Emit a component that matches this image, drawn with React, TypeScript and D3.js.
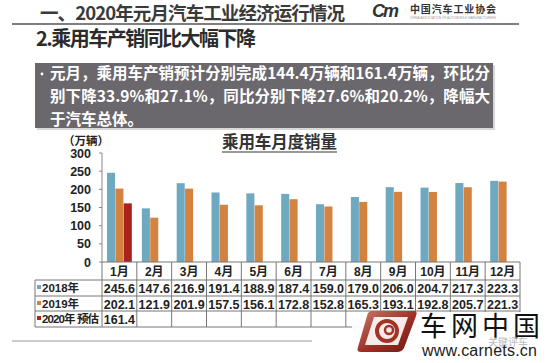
import React from "react";
import { scaleBand, scaleLinear, range } from "d3";

const months = ["1月", "2月", "3月", "4月", "5月", "6月", "7月", "8月", "9月", "10月", "11月", "12月"];
const sales2018 = [245.6, 147.6, 216.9, 191.4, 188.9, 187.4, 159.0, 179.0, 206.0, 204.7, 217.3, 223.3];
const sales2019 = [202.1, 121.9, 201.9, 157.5, 156.1, 172.8, 152.8, 165.3, 193.1, 192.8, 205.7, 221.3];
const sales2020 = [161.4];
const seriesNames = ["2018年", "2019年", "2020年 预估"];
const seriesColors = ["#6fa8c1", "#d3823f", "#a9221b"];
const yTicks = [0, 50, 100, 150, 200, 250, 300];

const bodyLines = [
  "元月，乘用车产销预计分别完成144.4万辆和161.4万辆，环比分",
  "别下降33.9%和27.1%，同比分别下降27.6%和20.2%，降幅大",
  "于汽车总体。",
];

const SANS = "'Liberation Sans', 'Noto Sans CJK SC', sans-serif";
const CJK = "'Noto Sans CJK SC', sans-serif";

const App = () => {
  const W = 550;
  const H = 363;
  const series = [sales2018, sales2019, sales2020];

  // plot area
  const x = scaleBand<string>().domain(months).range([102, 520]);
  const inner = scaleBand<string>()
    .domain(seriesNames)
    .range([0, x.step()])
    .paddingInner(0.04)
    .paddingOuter(0.6);
  const y = scaleLinear().domain([0, 300]).range([262, 153]);

  // table rows
  const rowTops = [262, 280, 296, 311, 327];
  const labelLeft = 35;

  return (
    <svg width={W} height={H} style={{ position: "absolute", left: 0, top: 0, background: "#fff" }}>
      {/* page header */}
      <text x={40} y={20} fontFamily={CJK} fontWeight={700} fontSize={18.5} fill="#3a3a3a" textLength={305}>
        一、2020年元月汽车工业经济运行情况
      </text>
      <line x1={12} x2={519} y1={24} y2={24} stroke="#555" strokeWidth={1.5} />
      <text x={372} y={17} fontFamily={SANS} fontStyle="italic" fontWeight={700} fontSize={18} fill="#333" letterSpacing={-2}>
        Cm
      </text>
      <text x={410} y={13} fontFamily={CJK} fontWeight={700} fontSize={10} fill="#333" textLength={86}>
        中国汽车工业协会
      </text>
      <text x={410} y={19} fontFamily={SANS} fontSize={3} fill="#999" textLength={86}>
        CHINA ASSOCIATION OF AUTOMOBILE MANUFACTURERS
      </text>

      <text x={36} y={46} fontFamily={CJK} fontWeight={700} fontSize={20} fill="#2b2b2b" textLength={220}>
        2.乘用车产销同比大幅下降
      </text>

      {/* grey text box */}
      <rect x={37} y={65} width={458} height={65} fill="#d8d8d8" />
      <rect x={35} y={63} width={458} height={65} fill="#6b686d" />
      <circle cx={42} cy={74} r={1.4} fill="#fff" />
      {bodyLines.map((t, i) => (
        <text
          key={i}
          x={50}
          y={79 + i * 23}
          fontFamily={CJK}
          fontWeight={700}
          fontSize={15.5}
          fill="#fff"
          textLength={i < 2 ? 440 : undefined}
        >
          {t}
        </text>
      ))}

      {/* chart title */}
      <text x={222} y={148} fontFamily={CJK} fontWeight={700} fontSize={16.5} fill="#333" textLength={115}>
        乘用车月度销量
      </text>
      <line x1={222} x2={337} y1={152} y2={152} stroke="#333" strokeWidth={1} />
      <text x={63} y={145} fontFamily={CJK} fontWeight={700} fontSize={11.5} fill="#222">
        （万辆）
      </text>

      {/* y axis */}
      <line x1={102} x2={102} y1={y(300)} y2={y(0)} stroke="#888" />
      {yTicks.map((t) => (
        <g key={t}>
          <line x1={99} x2={102} y1={y(t)} y2={y(t)} stroke="#888" />
          <text x={91} y={y(t) + 4.5} textAnchor="end" fontFamily={SANS} fontWeight={700} fontSize={12.5} fill="#222">
            {t}
          </text>
        </g>
      ))}

      {/* bars */}
      {series.map((vals, si) =>
        vals.map((v, mi) => (
          <rect
            key={`${si}-${mi}`}
            x={(x(months[mi]) as number) + (inner(seriesNames[si]) as number)}
            y={y(v)}
            width={inner.bandwidth()}
            height={y(0) - y(v)}
            fill={seriesColors[si]}
          />
        ))
      )}

      {/* data table */}
      {rowTops.map((ry, i) => (
        <line
          key={ry}
          x1={i === 0 ? 102 : labelLeft}
          x2={520}
          y1={ry}
          y2={ry}
          stroke="#777"
          strokeWidth={1}
        />
      ))}
      <line x1={labelLeft} x2={labelLeft} y1={280} y2={327} stroke="#777" />
      {range(months.length + 1).map((i) => {
        const xx = i === months.length ? 520 : (x(months[i]) as number);
        return <line key={i} x1={xx} x2={xx} y1={262} y2={327} stroke="#777" />;
      })}
      {months.map((m) => (
        <text
          key={m}
          x={(x(m) as number) + x.bandwidth() / 2}
          y={276}
          textAnchor="middle"
          fontFamily={SANS}
          fontWeight={700}
          fontSize={12}
          fill="#222"
        >
          {m}
        </text>
      ))}
      {series.map((vals, si) => (
        <g key={si}>
          <rect x={37} y={rowTops[si + 1] + 5} width={4} height={4} fill={seriesColors[si]} />
          <text
            x={42}
            y={rowTops[si + 1] + 12}
            fontFamily={SANS}
            fontWeight={700}
            fontSize={11.5}
            fill="#222"
            textLength={si === 2 ? 57 : undefined}
          >
            {seriesNames[si]}
          </text>
          {vals.map((v, mi) => (
            <text
              key={mi}
              x={(x(months[mi]) as number) + x.bandwidth() / 2}
              y={rowTops[si + 1] + 12.5}
              textAnchor="middle"
              fontFamily={SANS}
              fontWeight={700}
              fontSize={12.5}
              fill="#222"
            >
              {v.toFixed(1)}
            </text>
          ))}
        </g>
      ))}

      {/* footer line */}
      <line x1={12} x2={312} y1={341} y2={341} stroke="#999" strokeWidth={1} />

      {/* watermark */}
      <rect x={352} y={312} width={198} height={51} fill="#fff" opacity={0.95} />
      <defs>
        <linearGradient id="wm" x1="0" y1="0" x2="1" y2="1">
          <stop offset="0%" stopColor="#c97a6c" />
          <stop offset="55%" stopColor="#9c2e24" />
          <stop offset="100%" stopColor="#6e1a14" />
        </linearGradient>
      </defs>
      <path
        d="M372,311 L414,311 Q418,311 416,316 L404,348 Q402,352 397,352 L361,352 Q356,352 358,347 L367,316 Q368,311 372,311 Z"
        fill="url(#wm)"
      />
      <path d="M374,317 L408,317 L398,345 L365,345 Z" fill="#fff" opacity={0.9} />
      <circle cx={387} cy={331} r={10} fill="none" stroke="#a33226" strokeWidth={4} />
      <circle cx={389} cy={330} r={4} fill="none" stroke="#a33226" strokeWidth={2.5} />
      <text x={420} y={336} fontFamily={CJK} fontSize={27} fill="#111" textLength={120}>
        车网中国
      </text>
      <text x={488} y={346} fontFamily={CJK} fontSize={10} fill="#aaa" opacity={0.8}>
        关键评车
      </text>
      <text x={422} y={356} fontFamily={SANS} fontSize={16} fill="#222" textLength={115}>
        www.carnets.cn
      </text>
    </svg>
  );
};

export default App;
